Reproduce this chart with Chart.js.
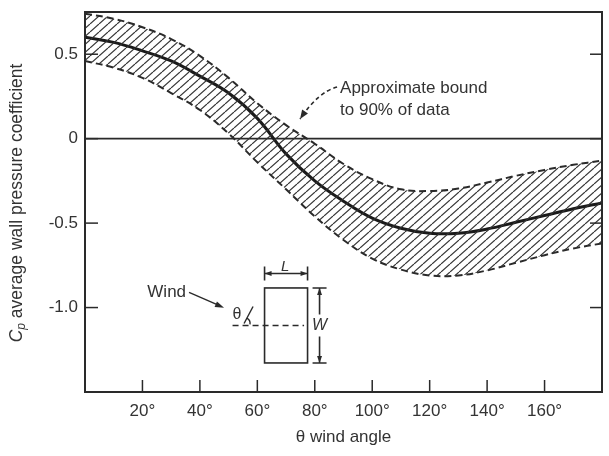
<!DOCTYPE html>
<html><head><meta charset="utf-8">
<script src="https://cdn.jsdelivr.net/npm/chart.js@4.4.1/dist/chart.umd.min.js"></script>
<style>html,body{margin:0;padding:0;background:#fff}#wrap{width:609px;height:456px}</style>
</head><body><div id="wrap"><canvas id="c" width="609" height="456"></canvas></div>
<script>
// ---- data ----
const angles  = [0,10,20,30,40,50,60,70,80,90,100,110,120,130,140,150,160,170,180];
const cpMean  = [0.60,0.57,0.52,0.46,0.37,0.27,0.12,-0.09,-0.25,-0.37,-0.47,-0.53,-0.56,-0.56,-0.535,-0.495,-0.455,-0.415,-0.38];
const cpUpper = [0.74,0.71,0.66,0.59,0.49,0.36,0.21,0.08,-0.03,-0.15,-0.24,-0.30,-0.31,-0.295,-0.26,-0.22,-0.185,-0.155,-0.13];
const cpLower = [0.46,0.42,0.36,0.27,0.17,0.03,-0.14,-0.30,-0.46,-0.60,-0.71,-0.775,-0.81,-0.81,-0.78,-0.735,-0.69,-0.65,-0.62];
const zeroLineX = [0,180];
const zeroLineY = [0,0];
const xTicks = [20,40,60,80,100,120,140,160];
const yTicks = [0.5,0,-0.5,-1.0];
const yTickLabels = ['0.5','0','-0.5','-1.0'];
const xTitle = 'θ wind angle';
const yTitleMain = ' average wall pressure coefficient';
const noteLines = ['Approximate bound','to 90% of data'];
const noteAt = {x:88.8, y:0.30};
const insetAt = {x:70, y:-1.106};

const INK = '#2a2a2a';
const TXT = '#333';
const FONT = '"Liberation Sans", Arial, sans-serif';

function hatch(){
  const c=document.createElement('canvas'); c.width=9; c.height=8;
  const g=c.getContext('2d'); g.strokeStyle='#333'; g.lineWidth=1.2;
  for (const o of [-9,0,9]){ g.beginPath(); g.moveTo(o,8); g.lineTo(o+9,0); g.stroke(); }
  return g.createPattern(c,'repeat');
}
const pts = (xs, ys) => xs.map((x,i)=>({x, y: ys[i]}));

function arrowHead(ctx, x, y, ang, len, half){
  ctx.save(); ctx.translate(x,y); ctx.rotate(ang);
  ctx.beginPath(); ctx.moveTo(0,0); ctx.lineTo(-len,-half); ctx.lineTo(-len,half); ctx.closePath(); ctx.fill();
  ctx.restore();
}

const decor = {
  id:'decor',
  afterDatasetsDraw(chart){
    const ctx = chart.ctx, a = chart.chartArea, xs = chart.scales.x, ys = chart.scales.y;
    ctx.save();
    ctx.strokeStyle = INK; ctx.fillStyle = INK; ctx.setLineDash([]);
    // frame
    ctx.lineWidth = 2;
    ctx.strokeRect(a.left, a.top, a.right-a.left, a.bottom-a.top);
    // inward ticks
    ctx.lineWidth = 1.5;
    xTicks.forEach(v=>{ const px=xs.getPixelForValue(v); ctx.beginPath(); ctx.moveTo(px,a.bottom); ctx.lineTo(px,a.bottom-12); ctx.stroke(); });
    yTicks.forEach(v=>{ const py=ys.getPixelForValue(v);
      ctx.beginPath(); ctx.moveTo(a.left,py); ctx.lineTo(a.left+13,py); ctx.stroke();
      ctx.beginPath(); ctx.moveTo(a.right,py); ctx.lineTo(a.right-12,py); ctx.stroke(); });

    // annotation
    const nx = xs.getPixelForValue(noteAt.x), ny = ys.getPixelForValue(noteAt.y);
    ctx.fillStyle = TXT; ctx.font = '17px '+FONT; ctx.textBaseline='middle'; ctx.textAlign='left';
    ctx.fillText(noteLines[0], nx, ny);
    ctx.fillText(noteLines[1], nx, ny+22);
    ctx.fillStyle = INK;
    ctx.lineWidth = 1.6; ctx.setLineDash([4,3]);
    const s={x:nx-3,y:ny-1}, c={x:nx-22,y:ny+4}, e={x:nx-40,y:ny+31};
    ctx.beginPath(); ctx.moveTo(s.x,s.y); ctx.quadraticCurveTo(c.x,c.y,e.x,e.y); ctx.stroke();
    ctx.setLineDash([]);
    arrowHead(ctx, e.x, e.y, Math.atan2(e.y-c.y, e.x-c.x), 9, 3.5);

    // inset diagram
    const cx = xs.getPixelForValue(insetAt.x), cy = ys.getPixelForValue(insetAt.y);
    ctx.lineWidth = 1.6;
    ctx.strokeRect(cx-21.5, cy-37.5, 43, 75);
    // L dimension
    ctx.beginPath(); ctx.moveTo(cx-21.5, cy-52); ctx.lineTo(cx+21.5, cy-52);
    ctx.moveTo(cx-21.5, cy-59); ctx.lineTo(cx-21.5, cy-45);
    ctx.moveTo(cx+21.5, cy-59); ctx.lineTo(cx+21.5, cy-45); ctx.stroke();
    arrowHead(ctx, cx-21.5, cy-52, Math.PI, 7, 2.5);
    arrowHead(ctx, cx+21.5, cy-52, 0, 7, 2.5);
    ctx.fillStyle = TXT; ctx.font = 'italic 15px '+FONT; ctx.textAlign='center'; ctx.textBaseline='middle';
    ctx.fillText('L', cx-1, cy-59);
    ctx.fillStyle = INK;
    // W dimension
    const wx = cx+33.5;
    ctx.beginPath(); ctx.moveTo(wx, cy-37.5); ctx.lineTo(wx, cy-11);
    ctx.moveTo(wx, cy+11); ctx.lineTo(wx, cy+37.5);
    ctx.moveTo(wx-7, cy-37.5); ctx.lineTo(wx+7, cy-37.5);
    ctx.moveTo(wx-7, cy+37.5); ctx.lineTo(wx+7, cy+37.5); ctx.stroke();
    arrowHead(ctx, wx, cy-37.5, -Math.PI/2, 7, 2.5);
    arrowHead(ctx, wx, cy+37.5, Math.PI/2, 7, 2.5);
    ctx.fillStyle = TXT; ctx.font = 'italic 16px '+FONT;
    ctx.fillText('W', wx, cy);
    ctx.fillStyle = INK;
    // dashed centre line
    ctx.setLineDash([6,4]); ctx.lineWidth=1.6;
    ctx.beginPath(); ctx.moveTo(cx-53.5, cy); ctx.lineTo(cx+18, cy); ctx.stroke();
    ctx.setLineDash([]);
    // theta and wind direction
    ctx.lineWidth = 1.4;
    ctx.beginPath(); ctx.moveTo(cx-42, cy-2); ctx.lineTo(cx-33, cy-19); ctx.stroke();
    ctx.beginPath(); ctx.arc(cx-42, cy-2, 6, -Math.PI*0.35, Math.PI*0.05); ctx.stroke();
    ctx.fillStyle = TXT; ctx.font = '16px '+FONT; ctx.textAlign='center';
    ctx.fillText('θ', cx-49, cy-11);
    ctx.textAlign='right'; ctx.font = '17px '+FONT;
    ctx.fillText('Wind', cx-100, cy-33);
    ctx.fillStyle = INK; ctx.lineWidth=1.4;
    ctx.beginPath(); ctx.moveTo(cx-97, cy-33); ctx.lineTo(cx-66, cy-19.5); ctx.stroke();
    arrowHead(ctx, cx-62, cy-17.7, Math.atan2(15, 35), 9, 3);

    // y axis title with subscript
    ctx.save();
    ctx.translate(17, 203);
    ctx.rotate(-Math.PI/2);
    ctx.fillStyle = TXT; ctx.textBaseline='middle'; ctx.textAlign='left';
    const fMain = '17.5px '+FONT, fC = 'italic 17.5px '+FONT, fSub = 'italic 12px '+FONT;
    ctx.font=fC; const wC = ctx.measureText('C').width;
    ctx.font=fSub; const wP = ctx.measureText('p').width;
    ctx.font=fMain; const wM = ctx.measureText(yTitleMain).width;
    let x0 = -(wC+wP+wM)/2;
    ctx.font=fC; ctx.fillText('C', x0, 0); x0+=wC;
    ctx.font=fSub; ctx.fillText('p', x0, 5); x0+=wP;
    ctx.font=fMain; ctx.fillText(yTitleMain, x0, 0);
    ctx.restore();
    ctx.restore();
  }
};

const bandFill = hatch();
new Chart(document.getElementById('c'), {
  type:'line',
  data:{ datasets:[
    { label:'Upper bound', data: pts(angles, cpUpper), borderColor:INK, borderWidth:2, borderDash:[7,4],
      backgroundColor: bandFill, fill:{target:1}, tension:0.4, pointRadius:0 },
    { label:'Lower bound', data: pts(angles, cpLower), borderColor:INK, borderWidth:2, borderDash:[7,4],
      fill:false, tension:0.4, pointRadius:0 },
    { label:'Mean Cp', data: pts(angles, cpMean), borderColor:'#1a1a1a', borderWidth:3,
      fill:false, tension:0.4, pointRadius:0 },
    { label:'Zero', data: pts(zeroLineX, zeroLineY), borderColor:INK, borderWidth:1.6,
      fill:false, pointRadius:0 }
  ]},
  options:{
    responsive:false, animation:false, devicePixelRatio:1,
    layout:{ padding:{ top:12, right:7, left:0, bottom:0 } },
    plugins:{ legend:{display:false}, tooltip:{enabled:false} },
    scales:{
      x:{ type:'linear', min:0, max:180,
        afterBuildTicks:(s)=>{ s.ticks = xTicks.map(v=>({value:v})); },
        afterFit:(s)=>{ s.height = 64; s.paddingLeft = 0; s.paddingRight = 0; },
        grid:{display:false, drawTicks:false}, border:{display:false},
        ticks:{ color:TXT, font:{family:FONT, size:17}, padding:9, maxRotation:0, autoSkip:false,
          callback:(v)=> v+'°' },
        title:{ display:true, text:xTitle, color:TXT, font:{family:FONT, size:17}, padding:{top:0,bottom:8} }
      },
      y:{ type:'linear', min:-1.5, max:0.75,
        afterBuildTicks:(s)=>{ s.ticks = yTicks.map(v=>({value:v})); },
        afterFit:(s)=>{ s.width = 85; s.paddingTop = 0; s.paddingBottom = 0; },
        grid:{display:false, drawTicks:false}, border:{display:false},
        ticks:{ color:TXT, font:{family:FONT, size:17}, padding:7, autoSkip:false,
          callback:(v)=>{ const i = yTicks.indexOf(v); return i>=0 ? yTickLabels[i] : ''; } }
      }
    }
  },
  plugins:[decor]
});
</script>
</body></html>
